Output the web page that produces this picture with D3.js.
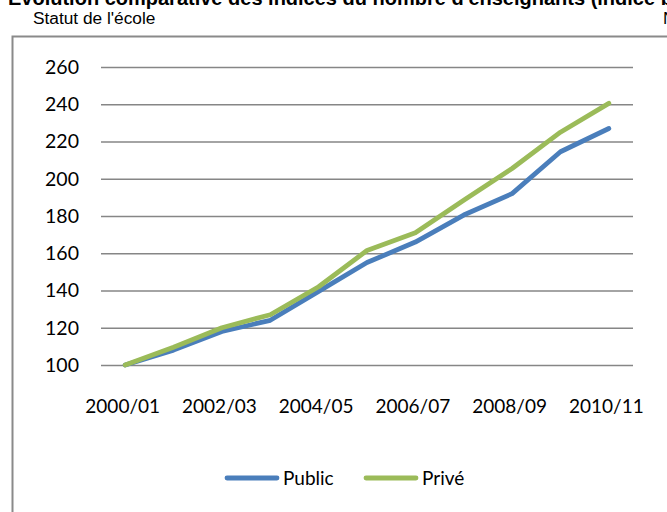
<!DOCTYPE html>
<html>
<head>
<meta charset="utf-8">
<script src="https://cdn.jsdelivr.net/npm/d3@7"></script>
<style>
  html, body { margin: 0; padding: 0; background: #fff; }
  svg { display: block; }
</style>
</head>
<body>
<svg id="chart" width="667" height="512"></svg>
<script>
const categories = ["2000/01","2001/02","2002/03","2003/04","2004/05","2005/06","2006/07","2007/08","2008/09","2009/10","2010/11"];
const tickLabels = ["2000/01","2002/03","2004/05","2006/07","2008/09","2010/11"];
const publicValues = [100, 108, 118, 124, 139.5, 155, 166, 180.5, 192, 214.5, 227];
const priveValues  = [100, 109.5, 120, 127, 142, 161.5, 171, 188.5, 205.5, 225, 240.5];
const yTicks = [100, 120, 140, 160, 180, 200, 220, 240, 260];
const seriesNames = ["Public", "Privé"];
const seriesColors = ["#4A7EBB", "#9BBB59"];
const titleText = "Évolution comparative des indices du nombre d'enseignants (indice base 100 en 2000/01)";
const subtitleText = "Statut de l'école";

const svg = d3.select("#chart");
const chartFont = "Lato, 'Open Sans', sans-serif";

// Title (cut at top, as in the source)
svg.append("text").attr("x", 8).attr("y", 5)
  .attr("font-family", "'Liberation Sans', Arial, sans-serif")
  .attr("font-weight", "bold").attr("font-size", 20).attr("fill", "#000")
  .text(titleText);
svg.append("text").attr("x", 33).attr("y", 24)
  .attr("font-family", "'Liberation Sans', Arial, sans-serif")
  .attr("font-size", 17.3).attr("fill", "#000")
  .text(subtitleText);
svg.append("text").attr("x", 663).attr("y", 24)
  .attr("font-family", "'Liberation Sans', Arial, sans-serif")
  .attr("font-size", 17.3).attr("fill", "#000")
  .text("Niveau");

// Chart frame
svg.append("rect").attr("x", 12.5).attr("y", 36.5).attr("width", 720).attr("height", 520)
  .attr("fill", "none").attr("stroke", "#8a8a8a").attr("stroke-width", 2);

const x = d3.scalePoint().domain(categories).range([101, 633]).padding(0.5);
const y = d3.scaleLinear().domain([100, 260]).range([365, 67]);

// Y axis with gridlines
const yAxis = d3.axisLeft(y).tickValues(yTicks).tickSize(-(633 - 101)).tickPadding(22);
const gy = svg.append("g").attr("transform", "translate(101,0)").call(yAxis);
gy.select(".domain").remove();
gy.selectAll(".tick line").attr("stroke", "#868686").attr("stroke-width", 1.7);
gy.selectAll(".tick text").attr("font-family", chartFont).attr("font-size", 19.5).attr("fill", "#000");

// X axis labels
const xAxis = d3.axisBottom(x).tickValues(tickLabels).tickSize(0).tickPadding(35);
const gx = svg.append("g").attr("transform", "translate(-3,365)").call(xAxis);
gx.select(".domain").remove();
gx.selectAll(".tick text").attr("font-family", chartFont).attr("font-size", 19).attr("fill", "#000");

// Lines
const line = d3.line().x((d, i) => x(categories[i])).y(d => y(d));
[publicValues, priveValues].forEach((vals, k) => {
  svg.append("path").datum(vals)
    .attr("d", line)
    .attr("fill", "none")
    .attr("stroke", seriesColors[k])
    .attr("stroke-width", 4.8)
    .attr("stroke-linejoin", "round")
    .attr("stroke-linecap", "round");
});

// Legend
const legendX = [227, 366];
seriesNames.forEach((name, k) => {
  const g = svg.append("g").attr("transform", `translate(${legendX[k]},478)`);
  g.append("line").attr("x1", 0).attr("x2", 50).attr("y1", 0).attr("y2", 0)
    .attr("stroke", seriesColors[k]).attr("stroke-width", 4.8).attr("stroke-linecap", "round");
  g.append("text").attr("x", 56).attr("y", 7)
    .attr("font-family", chartFont).attr("font-size", 19).attr("fill", "#000")
    .text(name);
});
</script>
</body>
</html>
